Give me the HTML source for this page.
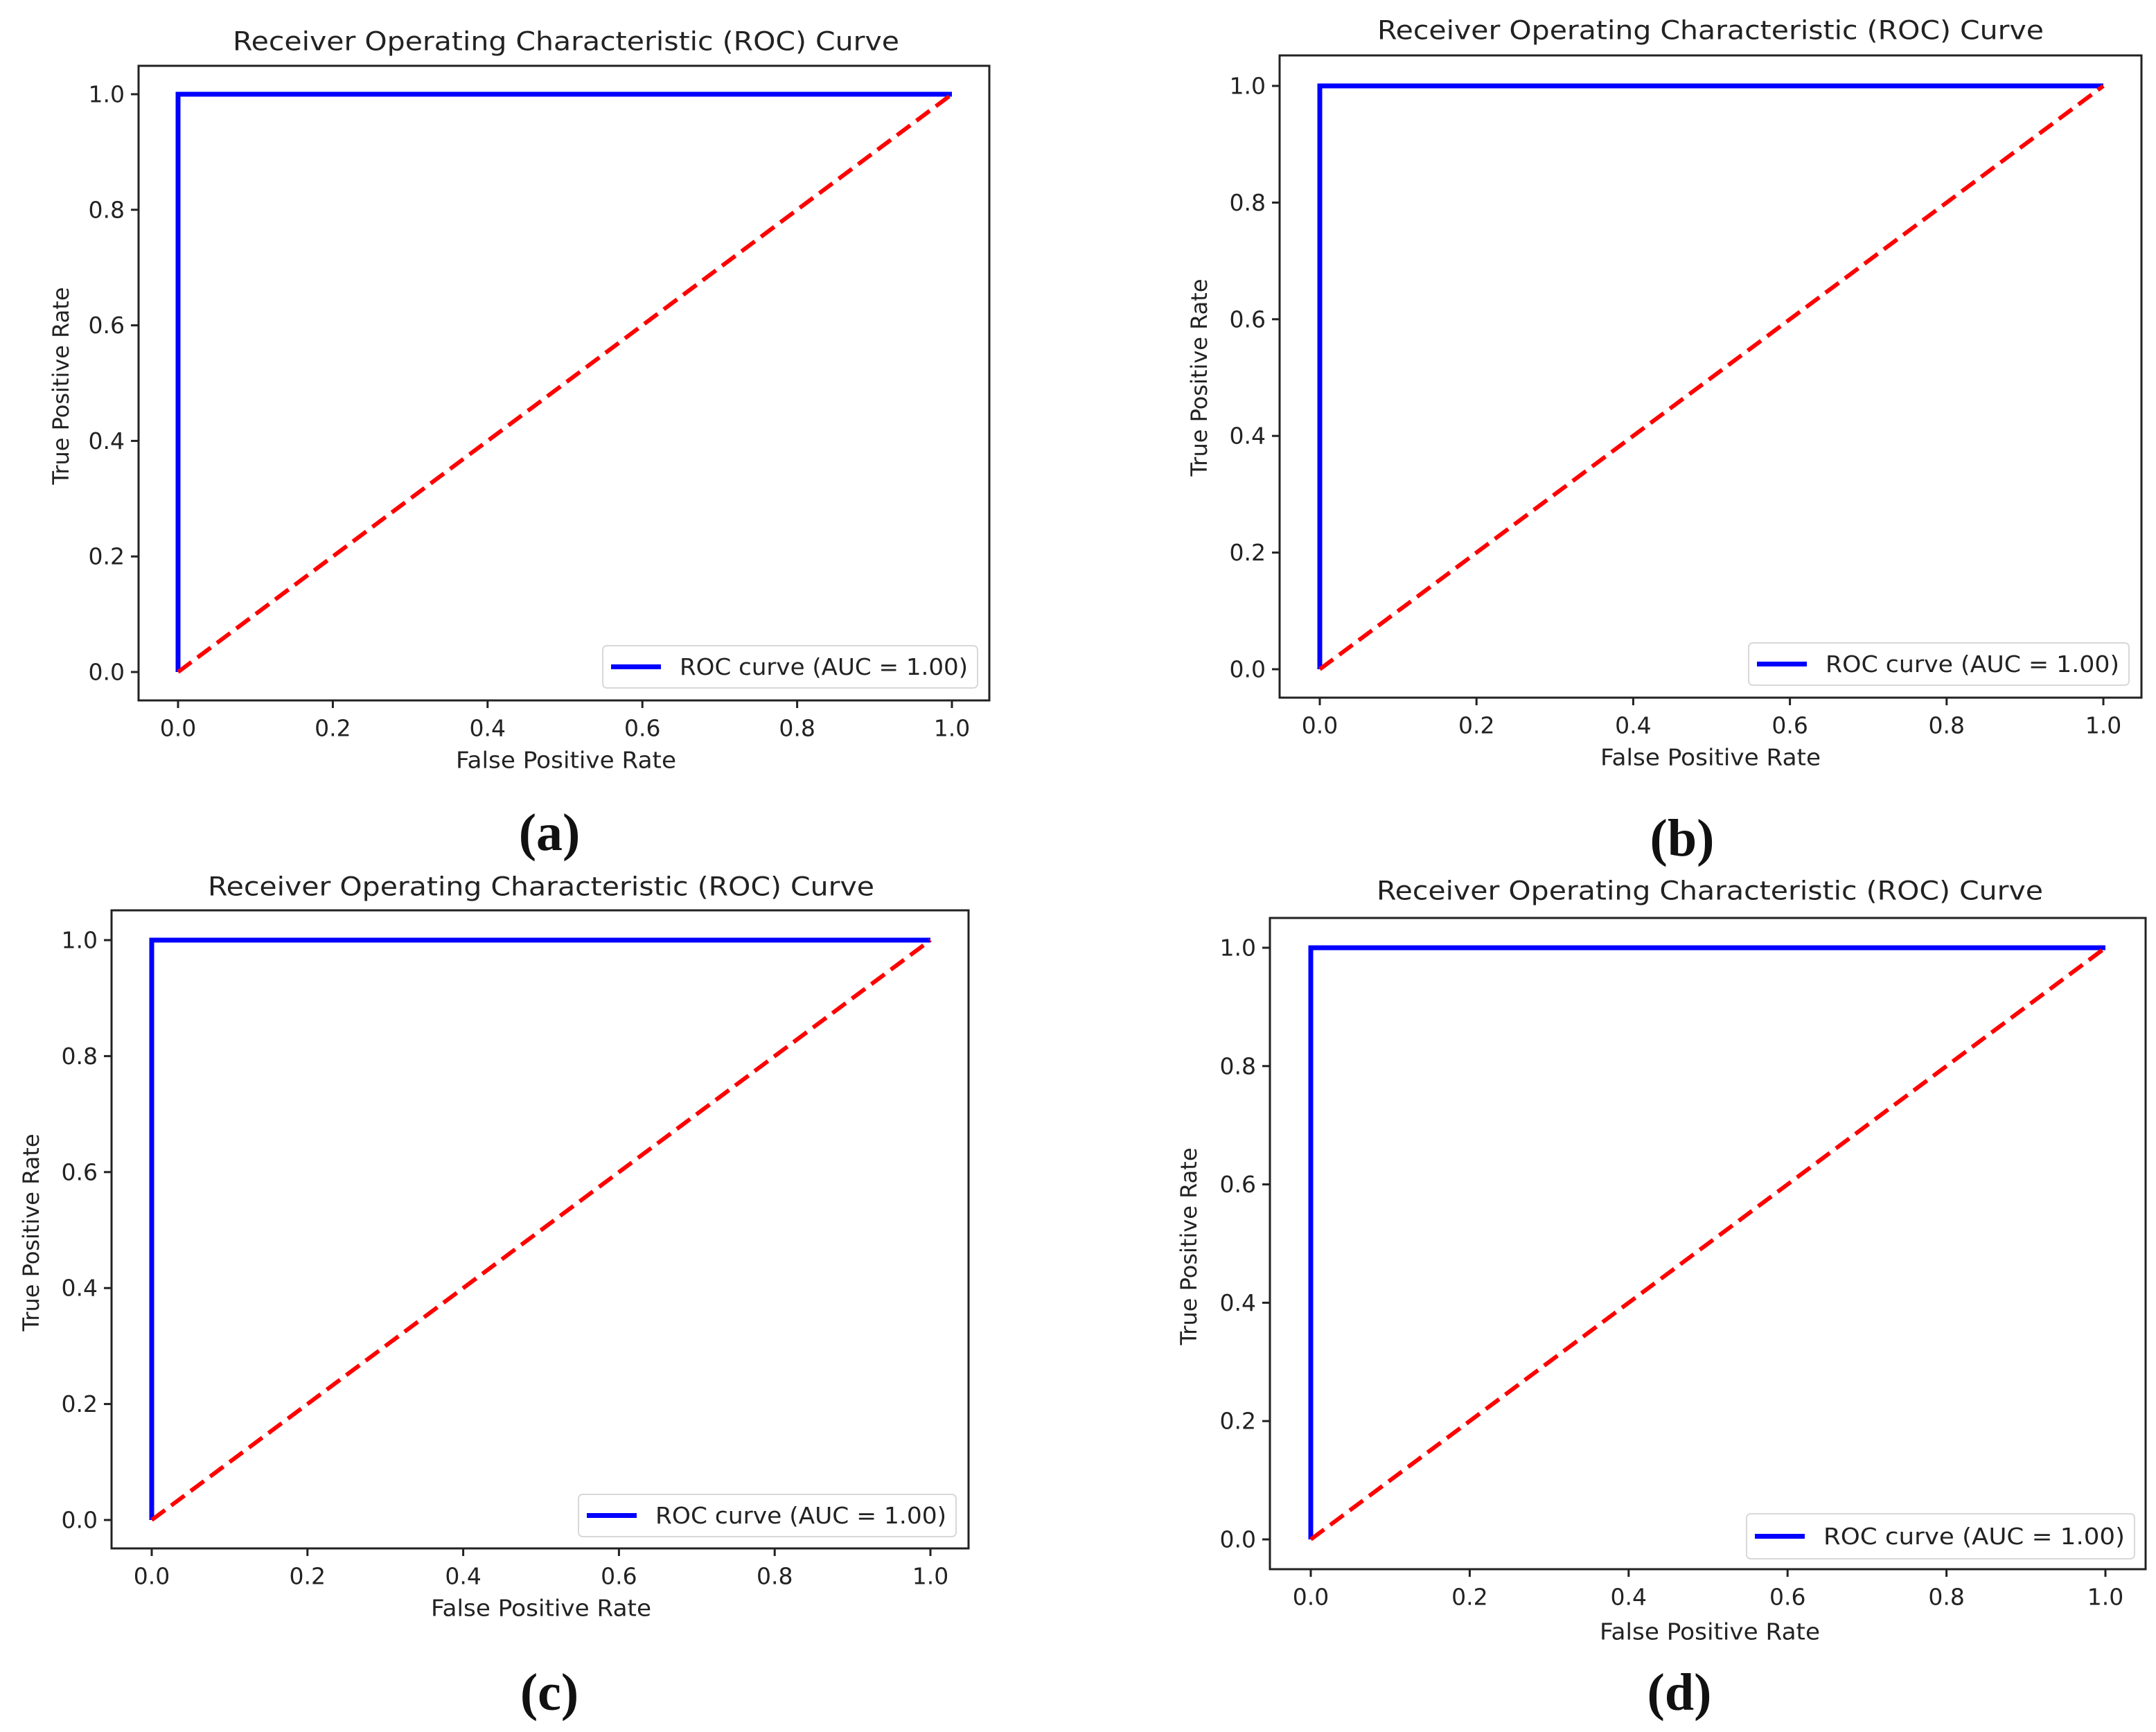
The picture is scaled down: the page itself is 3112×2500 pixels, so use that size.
<!DOCTYPE html>
<html><head><meta charset="utf-8"><style>
html,body{margin:0;padding:0;background:#fff;}
svg{display:block;}
text{font-family:"DejaVu Sans","Liberation Sans",sans-serif;fill:#222;}
.cap{font-family:"Liberation Serif","DejaVu Serif",serif;fill:#111;font-weight:bold;}
</style></head><body>
<svg id="fig" width="3112" height="2500" viewBox="0 0 3112 2500" xmlns="http://www.w3.org/2000/svg"></svg>
<script>
const panelLetters = ['a','b','c','d'];
const rocFpr = [0, 0, 1];
const rocTpr = [0, 1, 1];
const chanceFpr = [0, 1];
const chanceTpr = [0, 1];
const tickValues = [0, 0.2, 0.4, 0.6, 0.8, 1.0];
const tickLabels = ['0.0','0.2','0.4','0.6','0.8','1.0'];
const aucValue = '1.00';

const layouts = [
 {L:200,R:1428,T:95,B:1011,x0:257,x1:1374,y0:970,y1:136,tY:60,tX:817,tickY:1051,xlY:1097,xlX:817,ylX:88,ylY:557,cX:793,cY:1202,lg:[870,932,1411,993]},
 {L:1847,R:3091,T:80,B:1007,x0:1905,x1:3036,y0:966,y1:124,tY:44,tX:2469,tickY:1047,xlY:1093,xlX:2469,ylX:1731,ylY:545,cX:2428,cY:1210,lg:[2524,928,3073,989]},
 {L:161,R:1398,T:1314,B:2235,x0:219,x1:1343,y0:2194,y1:1357,tY:1280,tX:781,tickY:2275,xlY:2321,xlX:781,ylX:45,ylY:1779,cX:793,cY:2443,lg:[835,2157,1380,2218]},
 {L:1833,R:3097,T:1325,B:2265,x0:1892,x1:3039,y0:2222,y1:1368,tY:1286,tX:2468,tickY:2305,xlY:2355,xlX:2468,ylX:1716,ylY:1799,cX:2424,cY:2443,lg:[2521,2185,3081,2250]}
];
const NS='http://www.w3.org/2000/svg';
const fig=document.getElementById('fig');
function mk(tag,attrs,parent){const e=document.createElementNS(NS,tag);for(const k in attrs)e.setAttribute(k,attrs[k]);parent.appendChild(e);return e;}

layouts.forEach((p,i)=>{
  const sx=v=>p.x0+(p.x1-p.x0)*v;
  const sy=v=>p.y0+(p.y1-p.y0)*v;
  const g=mk('g',{},fig);
  
  
  const frame=mk('rect',{x:p.L,y:p.T,width:p.R-p.L,height:p.B-p.T,fill:'#fff',stroke:'#222','stroke-width':3},g);
  
  
  tickValues.forEach((v,k)=>{
    const xt=mk('line',{x1:sx(v),x2:sx(v),y1:p.B,y2:p.B+11,stroke:'#222','stroke-width':3},g);
    
    
    const xl=mk('text',{x:sx(v),y:p.tickY,'font-size':33,'text-anchor':'middle','dominant-baseline':'central'},g);
    xl.textContent=tickLabels[k];
    
    
    const yt=mk('line',{x1:p.L-11,x2:p.L,y1:sy(v),y2:sy(v),stroke:'#222','stroke-width':3},g);
    
    
    const yl=mk('text',{x:p.L-20,y:sy(v),'font-size':33,'text-anchor':'end','dominant-baseline':'central'},g);
    yl.textContent=tickLabels[k];
    
    
  });
  const roc=mk('polyline',{points:rocFpr.map((v,k)=>sx(v)+','+sy(rocTpr[k])).join(' '),fill:'none',stroke:'#0000ff','stroke-width':7},g);
  
  
  const ch=mk('polyline',{points:chanceFpr.map((v,k)=>sx(v)+','+sy(chanceTpr[k])).join(' '),fill:'none',stroke:'#ff0000','stroke-width':6,'stroke-dasharray':'24 11'},g);
  
  
  const t=mk('text',{x:p.tX,y:p.tY,'font-size':37,'text-anchor':'middle','dominant-baseline':'central',textLength:962,lengthAdjust:'spacingAndGlyphs'},g);
  t.textContent='Receiver Operating Characteristic (ROC) Curve';
  
  
  const xlab=mk('text',{x:p.xlX,y:p.xlY,'font-size':33,'text-anchor':'middle','dominant-baseline':'central',textLength:318,lengthAdjust:'spacingAndGlyphs'},g);
  xlab.textContent='False Positive Rate';
  
  
  const ylab=mk('text',{x:p.ylX,y:p.ylY,'font-size':32,'text-anchor':'middle','dominant-baseline':'central',transform:'rotate(-90 '+p.ylX+' '+p.ylY+')'},g);
  ylab.textContent='True Positive Rate';
  
  
  const [a,b,c,d]=p.lg;
  const lg=mk('g',{},g);
  
  
  mk('rect',{x:a,y:b,width:c-a,height:d-b,rx:6,fill:'#fff',stroke:'#d8d8d8','stroke-width':2},lg);
  const my=(b+d)/2;
  const ll=mk('line',{x1:a+12,x2:a+84,y1:my,y2:my,stroke:'#0000ff','stroke-width':7},lg);
  
  
  const lt=mk('text',{x:a+111,y:my,'font-size':33,'dominant-baseline':'central',textLength:(c-a)-125,lengthAdjust:'spacingAndGlyphs'},lg);
  lt.textContent='ROC curve (AUC = '+aucValue+')';
  
  
  const cap=mk('text',{x:p.cX,y:p.cY,'font-size':76,'text-anchor':'middle','dominant-baseline':'central',class:'cap'},g);
  cap.textContent='('+panelLetters[i]+')';
  
  
});
</script>
</body></html>
